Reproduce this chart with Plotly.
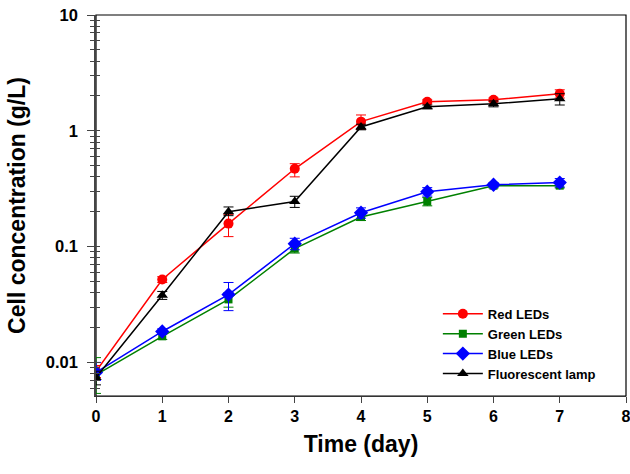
import plotly.graph_objects as go

days = [0, 1, 2, 3, 4, 5, 6, 7]

red_mean = [0.0084, 0.052, 0.158, 0.47, 1.20, 1.78, 1.85, 2.09]
red_plus = [0.0010, 0.003, 0.032, 0.05, 0.17, 0.07, 0.07, 0.17]
red_minus = [0.0010, 0.003, 0.036, 0.07, 0.17, 0.07, 0.07, 0.17]

green_mean = [0.0078, 0.0168, 0.035, 0.096, 0.180, 0.245, 0.336, 0.336]
green_plus = [0.0032, 0.0010, 0.005, 0.008, 0.012, 0.020, 0.015, 0.015]
green_minus = [0.0024, 0.0010, 0.005, 0.008, 0.012, 0.020, 0.015, 0.015]

blue_mean = [0.0082, 0.0185, 0.0385, 0.106, 0.196, 0.298, 0.342, 0.357]
blue_plus = [0.0018, 0.0010, 0.0105, 0.012, 0.020, 0.025, 0.015, 0.030]
blue_minus = [0.0012, 0.0010, 0.0105, 0.012, 0.020, 0.025, 0.015, 0.030]

fl_mean = [0.0074, 0.038, 0.200, 0.245, 1.08, 1.61, 1.71, 1.89]
fl_plus = [0.0010, 0.003, 0.020, 0.027, 0.06, 0.06, 0.10, 0.20]
fl_minus = [0.0010, 0.003, 0.015, 0.027, 0.06, 0.06, 0.10, 0.22]

series = [
    ("Red LEDs", red_mean, red_plus, red_minus, "#ff0000", "circle", 10),
    ("Green LEDs", green_mean, green_plus, green_minus, "#008000", "square", 8),
    ("Blue LEDs", blue_mean, blue_plus, blue_minus, "#0000ff", "diamond", 11),
    ("Fluorescent lamp", fl_mean, fl_plus, fl_minus, "#000000", "triangle-up", 10),
]

fig = go.Figure()
for name, m, ep, em, col, sym, sz in series:
    fig.add_trace(go.Scatter(
        x=days, y=m, name=name, mode="lines+markers",
        line=dict(color=col, width=1.5),
        marker=dict(color=col, symbol=sym, size=sz),
        error_y=dict(type="data", array=ep, arrayminus=em, symmetric=False,
                     color=col, thickness=1, width=5),
    ))

# invisible helper trace so the overlay axis (inner tick marks) is drawn
fig.add_trace(go.Scatter(x=[days[0]], y=[red_mean[0]], yaxis="y2", mode="markers",
                         marker=dict(opacity=0), showlegend=False, hoverinfo="skip"))

font_family = "Liberation Sans, Arial, sans-serif"
yrange = [-2.29, 1.0]

fig.update_layout(
    width=630, height=474,
    margin=dict(l=96, r=4, t=15, b=78, autoexpand=False),
    paper_bgcolor="white", plot_bgcolor="white",
    font=dict(family=font_family, color="black"),
    showlegend=True,
    legend=dict(x=0.645, y=0.255, xanchor="left", yanchor="top",
                bgcolor="rgba(0,0,0,0)", font=dict(size=13, weight="bold"),
                tracegroupgap=0, itemwidth=40),
    xaxis=dict(
        range=[0, 8], dtick=1, tick0=0, showgrid=False, zeroline=False,
        showline=True, linecolor="#333", linewidth=1.2,
        ticks="outside", ticklen=6, tickcolor="#444", automargin=False,
        ticklabeloverflow="allow",
        tickfont=dict(size=16, weight="bold"),
        title=dict(text="Time (day)", font=dict(size=23, weight="bold"), standoff=11),
    ),
    yaxis=dict(
        type="log", range=yrange, showgrid=False, zeroline=False,
        showline=True, linecolor="#444", linewidth=1.5,
        tickvals=[0.01, 0.1, 1, 10], ticktext=["0.01", "0.1", "1", "10"],
        ticks="outside", ticklen=7, tickcolor="#444", automargin=False,
        ticklabeloverflow="allow", ticklabelstandoff=6,
        minor=dict(ticks="outside", ticklen=4, dtick="D1", tickcolor="#444", showgrid=False),
        tickfont=dict(size=16.5, weight="bold"),
        title=dict(text="Cell concentration (g/L)", font=dict(size=23, weight="bold"), standoff=14),
    ),
    yaxis2=dict(
        type="log", range=yrange, overlaying="y", side="left",
        showline=False, showgrid=False, zeroline=False, showticklabels=False,
        tickvals=[0.01, 0.1, 1, 10], ticks="inside", ticklen=4, tickcolor="#444",
        automargin=False,
        minor=dict(ticks="inside", ticklen=4, dtick="D1", tickcolor="#444", showgrid=False),
    ),
    shapes=[dict(type="rect", xref="x domain", yref="y domain", x0=0, x1=1, y0=0, y1=1,
                 line=dict(color="black", width=1.2), fillcolor="rgba(0,0,0,0)", layer="below")],
)

fig.write_html("out.html", config={"displayModeBar": False},
               post_script="document.body.style.margin='0';document.body.style.overflow='hidden';")
